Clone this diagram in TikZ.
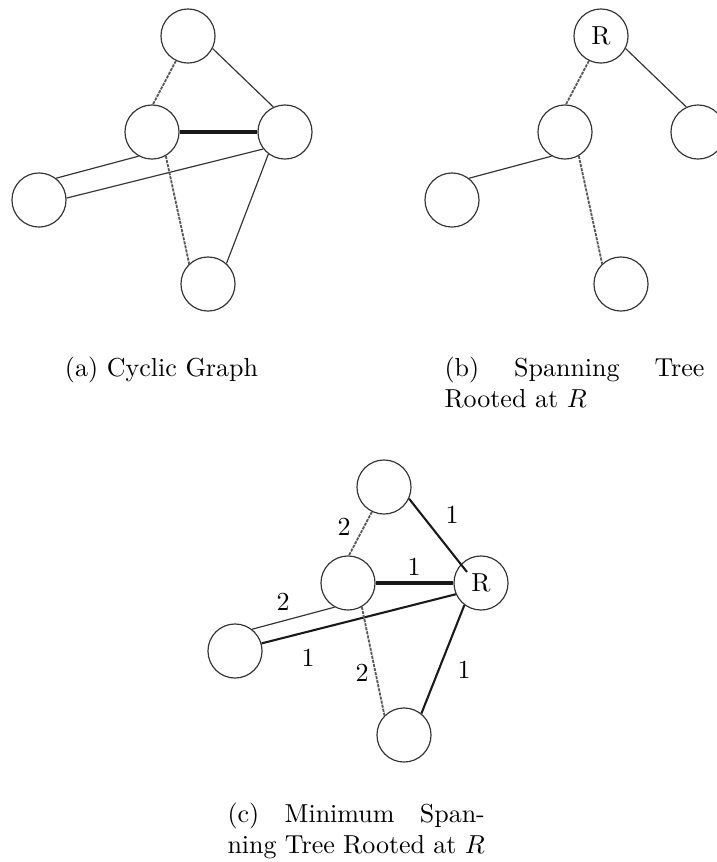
\documentclass[tikz,border=0pt]{standalone}
\usetikzlibrary{calc}
\tikzset{
  vert/.style={circle, draw=black!80, line width=0.45pt, minimum size=20.8pt, inner sep=0pt},
  thinedge/.style={black!80, line width=0.45pt},
  midedge/.style={black!90, line width=0.8pt},
  heavyedge/.style={black!90, line width=1.2pt},
  dashededge/.style={black!65, line width=0.7pt, dash pattern=on 1.2pt off 0.4pt},
  wlabel/.style={inner sep=1pt},
  subcap/.style={text width=100pt, inner sep=0pt, anchor=north west}
}
\begin{document}
\begin{tikzpicture}[x=0.01352cm, y=-0.01352cm]
\useasboundingbox (0,0) rectangle (717,862);
\begin{scope}
\foreach \n/\x/\y in {T/188/36, ML/152/132, MR/285/132, L/39/200, B/208/284}
  \node[vert] (a\n) at (\x,\y) {};
\draw[dashededge] (aT.244) -- (aML.88);
\draw[thinedge] (aT.333) -- (aMR.115);
\draw[heavyedge] (aML.0) -- (aMR.180);
\draw[thinedge] (aML.241) -- (aL.52);
\draw[thinedge] (aMR.218) -- (aL.4);
\draw[dashededge] (aML.300) -- (aB.133);
\draw[thinedge] (aMR.233) -- (aB.48);
\node[subcap, align=center] (capA) at (31,356) {(a) Cyclic Graph};
\end{scope}
\begin{scope}[shift={(413,0)}]
\node[vert] (bT) at (188,36) {R};
\foreach \n/\x/\y in {ML/152/132, MR/285/132, L/39/200, B/208/284}
  \node[vert] (b\n) at (\x,\y) {};
\draw[dashededge] (bT.244) -- (bML.88);
\draw[thinedge] (bT.333) -- (bMR.115);
\draw[thinedge] (bML.241) -- (bL.52);
\draw[dashededge] (bML.300) -- (bB.133);
\node[subcap, align=justify] (capB) at (31,356) {(b) Spanning Tree Rooted at $R$};
\end{scope}
\begin{scope}[shift={(196,451)}]
\node[vert] (cMR) at (285,132) {R};
\foreach \n/\x/\y in {T/188/36, ML/152/132, L/39/200, B/208/284}
  \node[vert] (c\n) at (\x,\y) {};
\coordinate (cRin) at ($(cMR)+(-14,-11)$);
\draw[dashededge] (cT.244) -- (cML.88);
\draw[midedge] (cT.335) -- (cRin);
\draw[heavyedge] (cML.0) -- (cMR.180);
\draw[thinedge] (cML.241) -- (cL.52);
\draw[midedge] (cMR.204) -- (cL.16);
\draw[dashededge] (cML.300) -- (cB.135);
\draw[midedge] (cMR.233) -- (cB.51);
\node[wlabel] (wTR) at (256,64) {1};
\node[wlabel] (wTML) at (148,76) {2};
\node[wlabel] (wMLR) at (218,116) {1};
\node[wlabel] (wMLL) at (87,151) {2};
\node[wlabel] (wRL) at (112,207) {1};
\node[wlabel] (wMLB) at (166,222) {2};
\node[wlabel] (wRB) at (268,219) {1};
\node[subcap, text width=99pt, align=justify] (capC) at (31,351) {(c) Minimum Span\-ning Tree Rooted at $R$};
\end{scope}
\end{tikzpicture}
\end{document}
